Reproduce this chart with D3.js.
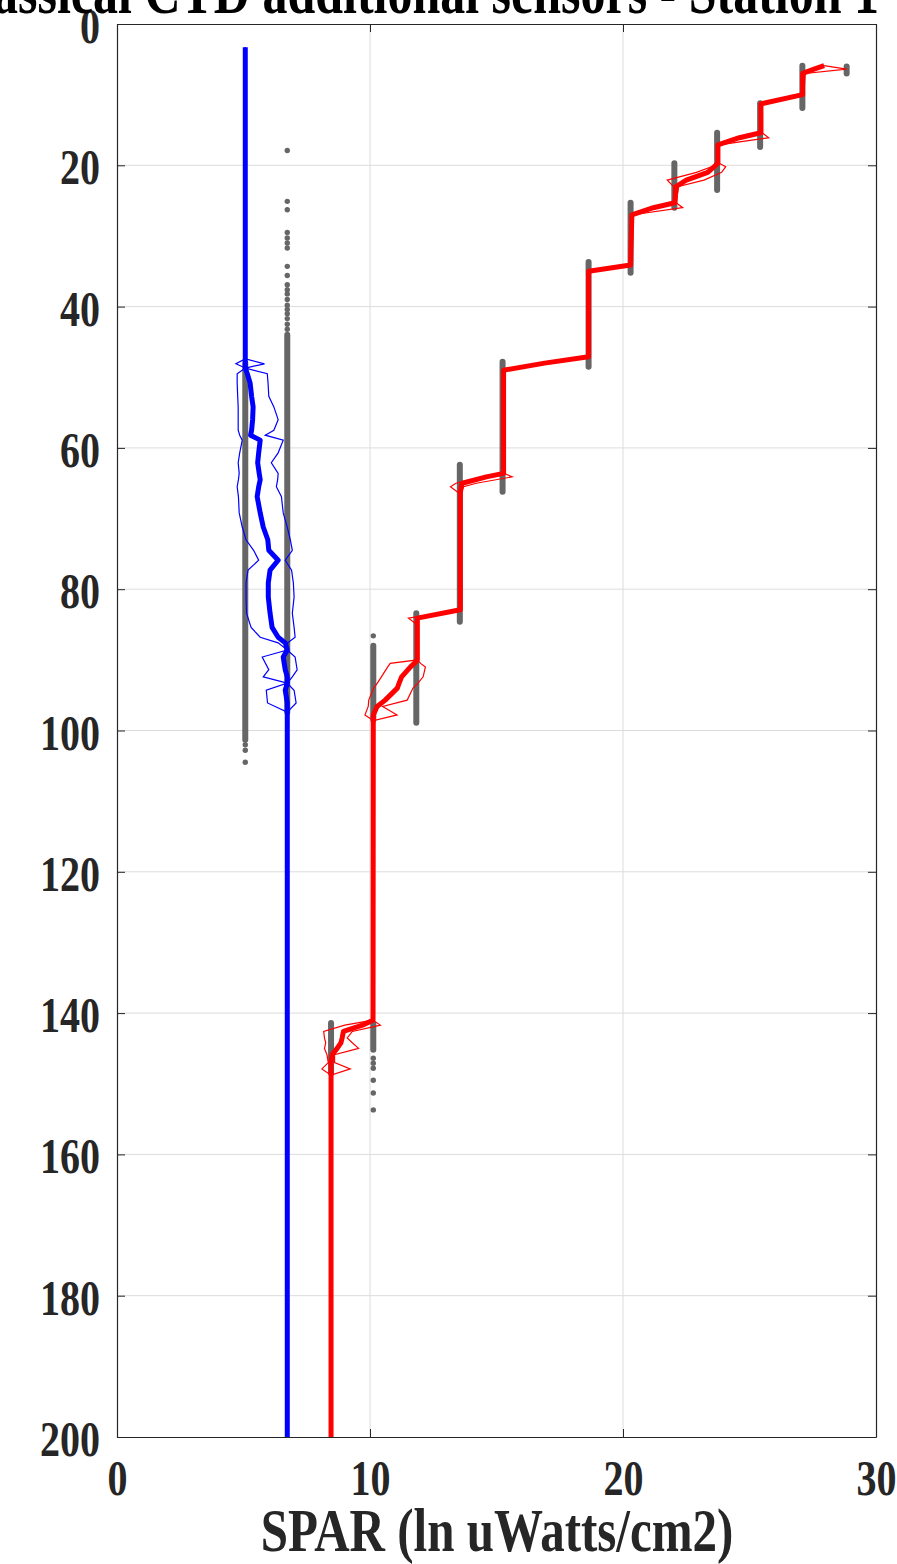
<!DOCTYPE html>
<html><head><meta charset="utf-8">
<script src="https://d3js.org/d3.v7.min.js"></script>
<style>body{margin:0;background:#fff}</style>
</head><body><svg id="c" width="897" height="1564"></svg>
<script>
const titleText = "Classical CTD additional sensors - Station 1";
const xLabelText = "SPAR (ln uWatts/cm2)";
const xTicks = [0, 10, 20, 30];
const yTicks = [0, 20, 40, 60, 80, 100, 120, 140, 160, 180, 200];

// Blue profile: depth, mean, min, max
const blueDepth = [3.3,47.4,48.1,48.7,49.5,50.8,52.7,54.2,56.0,57.5,58.2,58.9,60.7,62.1,63.6,64.5,65.5,66.9,69.2,71.2,73.0,74.5,75.9,77.3,79.1,81.1,83.4,85.4,86.8,87.6,88.6,89.6,91.4,92.4,93.3,94.3,96.1,97.4,200];
const blueMean  = [5.07,5.07,5.07,5.07,5.15,5.26,5.32,5.38,5.36,5.32,5.28,5.66,5.60,5.56,5.62,5.66,5.60,5.54,5.66,5.78,5.96,6.00,6.37,6.05,5.98,5.98,6.05,6.13,6.37,6.65,6.73,6.57,6.65,6.73,6.73,6.65,6.73,6.73,6.73];
const blueMin   = [5.07,5.07,4.70,5.07,4.75,4.75,4.77,4.79,4.79,4.79,4.85,4.95,4.85,4.79,4.83,4.80,4.75,4.80,4.83,4.95,5.10,5.40,5.60,5.18,5.10,5.10,5.12,5.30,5.66,6.37,6.73,5.74,6.00,5.78,6.73,5.90,5.95,6.73,6.73];
const blueMax   = [5.07,5.07,5.83,5.07,5.94,5.97,6.00,6.20,6.37,6.20,5.86,6.57,6.37,6.10,6.37,6.35,6.30,6.50,6.57,6.73,6.85,6.93,6.65,6.90,6.97,7.00,6.93,7.00,7.04,6.75,6.73,7.04,7.12,6.93,6.73,7.00,7.08,6.73,6.73];

// Red profile: depth, mean, min, max
const redDepth = [5.9,6.4,7.0,10.0,11.3,15.4,16.1,17.1,19.7,20.2,21.0,22.1,23.0,25.3,26.0,27.0,34.1,35.0,47.1,48.0,49.0,63.6,64.1,65.0,65.5,66.5,82.9,84.1,85.0,90.0,90.5,91.0,92.4,93.3,94.0,95.7,96.6,97.8,98.6,141.0,141.7,142.6,143.5,144.2,145.0,145.9,147.0,147.9,148.8,200];
const redMean  = [27.95,27.55,27.10,27.10,25.45,25.45,24.60,23.75,23.75,23.60,23.35,22.50,22.10,22.05,21.20,20.35,20.30,18.64,18.64,16.90,15.28,15.28,14.60,13.65,13.60,13.57,13.57,11.87,11.87,11.87,11.75,11.60,11.25,11.15,11.08,10.60,10.28,10.13,10.13,10.12,9.70,8.95,8.90,8.85,8.70,8.50,8.46,8.46,8.46,8.46];
const redMin   = [27.95,27.50,27.10,27.05,25.40,25.40,24.50,23.70,23.70,23.50,22.90,21.75,22.00,22.00,21.10,20.30,20.25,18.60,18.60,16.70,15.25,15.25,14.40,13.40,13.18,13.55,13.55,11.52,11.85,11.87,10.80,10.70,10.45,10.29,10.15,9.95,9.93,9.80,10.13,10.12,9.00,8.17,8.20,8.25,8.20,8.30,8.35,8.10,8.46,8.46];
const redMax   = [27.95,28.84,27.20,27.15,25.50,25.50,25.76,23.80,23.80,24.06,23.90,23.20,22.20,22.10,22.36,20.40,20.35,18.70,18.70,17.20,15.35,15.30,15.62,14.20,13.70,13.60,13.60,11.90,11.90,11.87,12.00,12.19,12.10,11.90,11.70,11.47,10.50,11.07,10.13,10.12,10.41,9.30,9.10,9.30,9.55,8.60,8.60,9.22,8.46,8.46];

// Raw samples: dense runs (value, top depth, bottom depth)
const runValue  = [5.07, 6.73, 28.84, 27.09, 25.42, 23.72, 22.03, 20.30, 18.64, 15.24, 13.55, 11.83, 10.13, 10.13, 8.46];
const runTop    = [48.0, 44.0, 6.0, 5.9, 11.2, 15.4, 19.7, 25.3, 33.7, 47.8, 62.4, 83.4, 88.0, 141.5, 141.4];
const runBottom = [101.3, 97.4, 7.0, 11.9, 17.4, 23.5, 26.0, 35.2, 48.5, 66.2, 84.6, 98.9, 98.5, 145.2, 148.5];
// Raw samples: isolated points
const dotValue = [6.73,6.73,6.73,6.73,6.73,6.73,6.73,6.73,6.73,6.73,6.73,6.73,6.73,6.73,6.73,6.73,6.73,6.73,6.73, 5.07,5.07,5.07, 10.13,10.13,10.13,10.13,10.13,10.13,10.13];
const dotDepth = [17.9,25.1,26.3,29.5,30.3,31.0,31.7,34.3,35.6,36.9,37.6,38.2,39.0,39.8,40.4,41.0,41.7,42.5,43.2, 102.0,102.8,104.5, 86.6,146.4,147.1,147.8,149.5,151.3,153.7];

const svg = d3.select("#c");
const x = d3.scaleLinear().domain([0, 30]).range([117, 876]);
const y = d3.scaleLinear().domain([0, 200]).range([24, 1437]);
const FONT = "'Liberation Serif','Times New Roman',serif";
const SY = 1.25;

// grid
svg.append("g").selectAll("line").data(xTicks.slice(1, -1)).join("line")
  .attr("x1", d => x(d)).attr("x2", d => x(d)).attr("y1", y(0)).attr("y2", y(200))
  .attr("stroke", "#dcdcdc").attr("stroke-width", 1);
svg.append("g").selectAll("line").data(yTicks.slice(1, -1)).join("line")
  .attr("y1", d => y(d)).attr("y2", d => y(d)).attr("x1", x(0)).attr("x2", x(30))
  .attr("stroke", "#dcdcdc").attr("stroke-width", 1);

// raw samples
const gray = "#666666";
svg.append("g").selectAll("line").data(runValue.map((v, i) => ({v, t: runTop[i], b: runBottom[i]}))).join("line")
  .attr("x1", d => x(d.v)).attr("x2", d => x(d.v)).attr("y1", d => y(d.t)).attr("y2", d => y(d.b))
  .attr("stroke", gray).attr("stroke-width", 6).attr("stroke-linecap", "round");
svg.append("g").selectAll("circle").data(dotValue.map((v, i) => ({v, d: dotDepth[i]}))).join("circle")
  .attr("cx", d => x(d.v)).attr("cy", d => y(d.d)).attr("r", 2.7).attr("fill", gray);

function series(depth, vals) { return depth.map((d, i) => ({d, v: vals[i]})); }
const line = d3.line().x(p => x(p.v)).y(p => y(p.d));

function drawProfile(depth, mean, mn, mx, color) {
  const g = svg.append("g").attr("fill", "none").attr("stroke", color);
  g.append("path").attr("d", line(series(depth, mn))).attr("stroke-width", 1.2);
  g.append("path").attr("d", line(series(depth, mx))).attr("stroke-width", 1.2);
  g.append("path").attr("d", line(series(depth, mean))).attr("stroke-width", 5).attr("stroke-linejoin", "round");
}
drawProfile(blueDepth, blueMean, blueMin, blueMax, "#0000ff");
drawProfile(redDepth, redMean, redMin, redMax, "#ff0000");

// axes (ticks inside, MATLAB style)
const axB = svg.append("g").attr("transform", `translate(0,${y(200)})`)
  .call(d3.axisBottom(x).tickValues(xTicks).tickSizeInner(-8).tickSizeOuter(0).tickFormat(d3.format("d")));
const axT = svg.append("g").attr("transform", `translate(0,${y(0)})`)
  .call(d3.axisTop(x).tickValues(xTicks).tickSizeInner(-8).tickSizeOuter(0).tickFormat(""));
const axL = svg.append("g").attr("transform", `translate(${x(0)},0)`)
  .call(d3.axisLeft(y).tickValues(yTicks).tickSizeInner(-8).tickSizeOuter(0).tickFormat(d3.format("d")));
const axR = svg.append("g").attr("transform", `translate(${x(30)},0)`)
  .call(d3.axisRight(y).tickValues(yTicks).tickSizeInner(-8).tickSizeOuter(0).tickFormat(""));
[axB, axT, axL, axR].forEach(a => {
  a.select(".domain").attr("stroke", "#262626").attr("stroke-width", 1.2);
  a.selectAll(".tick line").attr("stroke", "#262626");
});
axB.selectAll(".tick text").attr("y", null).attr("dy", "0.35em")
  .attr("transform", `translate(0,40) scale(1,${SY})`)
  .attr("font-family", FONT).attr("font-weight", "bold").attr("font-size", 40).attr("fill", "#262626");
axL.selectAll(".tick text").attr("x", null).attr("dy", "0.35em")
  .attr("text-anchor", "end")
  .attr("transform", `translate(-17,1) scale(1,${SY})`)
  .attr("font-family", FONT).attr("font-weight", "bold").attr("font-size", 40).attr("fill", "#262626");

// labels
svg.append("text").text(xLabelText)
  .attr("transform", `translate(497,1530) scale(1,${SY})`).attr("dy", "0.35em")
  .attr("text-anchor", "middle").attr("font-family", FONT).attr("font-weight", "bold")
  .attr("font-size", 49).attr("fill", "#262626");
svg.append("text").text(titleText)
  .attr("transform", `translate(879,13) scale(1,${SY})`)
  .attr("text-anchor", "end").attr("font-family", FONT).attr("font-weight", "bold")
  .attr("font-size", 50).attr("fill", "#000");
</script></body></html>
